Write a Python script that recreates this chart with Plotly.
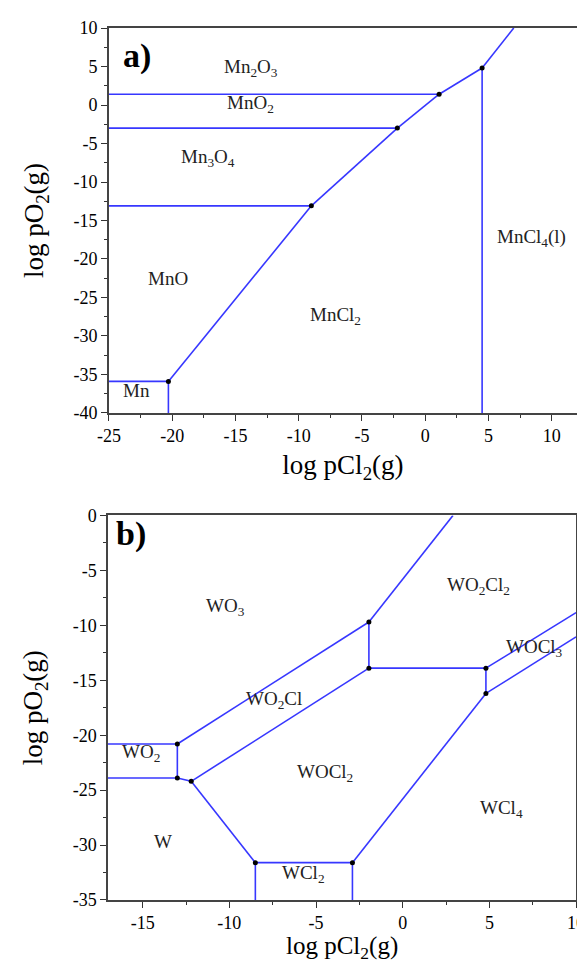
import plotly.graph_objects as go
from plotly.subplots import make_subplots

# ---------- Panel a) Mn-O-Cl ----------
A_MN_MNO_X, A_MN_MNO_Y = [-25, -20.3], [-35.9, -35.9]
A_MN_MNCL2_X, A_MN_MNCL2_Y = [-20.3, -20.3], [-40, -35.9]
A_MNO_MNCL2_X, A_MNO_MNCL2_Y = [-20.3, -9.0], [-35.9, -13.1]
A_MNO_MN3O4_X, A_MNO_MN3O4_Y = [-25, -9.0], [-13.1, -13.1]
A_MN3O4_MNCL2_X, A_MN3O4_MNCL2_Y = [-9.0, -2.2], [-13.1, -3.0]
A_MN3O4_MNO2_X, A_MN3O4_MNO2_Y = [-25, -2.2], [-3.0, -3.0]
A_MNO2_MNCL2_X, A_MNO2_MNCL2_Y = [-2.2, 1.1], [-3.0, 1.4]
A_MNO2_MN2O3_X, A_MNO2_MN2O3_Y = [-25, 1.1], [1.4, 1.4]
A_MN2O3_MNCL2_X, A_MN2O3_MNCL2_Y = [1.1, 4.5], [1.4, 4.8]
A_MN2O3_MNCL4_X, A_MN2O3_MNCL4_Y = [4.5, 7.0], [4.8, 10]
A_MNCL2_MNCL4_X, A_MNCL2_MNCL4_Y = [4.5, 4.5], [4.8, -40]

A_POINTS_X = [-20.3, -9.0, -2.2, 1.1, 4.5]
A_POINTS_Y = [-35.9, -13.1, -3.0, 1.4, 4.8]

A_LABELS = ["Mn<sub>2</sub>O<sub>3</sub>", "MnO<sub>2</sub>", "Mn<sub>3</sub>O<sub>4</sub>",
            "MnO", "MnCl<sub>2</sub>", "MnCl<sub>4</sub>(l)", "Mn"]
A_LABELS_X = [-13.8, -13.8, -17.2, -20.3, -7.1, 8.4, -22.8]
A_LABELS_Y = [4.0, -0.7, -7.7, -23.3, -28.2, -18.1, -37.9]

A_XTICKS = [-25, -20, -15, -10, -5, 0, 5, 10]
A_XTICKTEXT = ["-25", "-20", "-15", "-10", "-5", "0", "5", "10"]
A_YTICKS = [-40, -35, -30, -25, -20, -15, -10, -5, 0, 5, 10]
A_YTICKTEXT = ["-40", "-35", "-30", "-25", "-20", "-15", "-10", "-5", "0", "5", "10"]

# ---------- Panel b) W-O-Cl ----------
B_WO2_TOP_X, B_WO2_TOP_Y = [-17, -13.0], [-20.8, -20.8]
B_WO2_BOT_X, B_WO2_BOT_Y = [-17, -13.0], [-23.9, -23.9]
B_WO2_RIGHT_X, B_WO2_RIGHT_Y = [-13.0, -13.0], [-20.8, -23.9]
B_WO3_WO2CL_X, B_WO3_WO2CL_Y = [-13.0, -1.95], [-20.8, -9.7]
B_WO3_WO2CL2_X, B_WO3_WO2CL2_Y = [-1.95, 2.9], [-9.7, 0]
B_WO2CL_WO2CL2_X, B_WO2CL_WO2CL2_Y = [-1.95, -1.95], [-9.7, -13.9]
B_WO2CL_WOCL2_X, B_WO2CL_WOCL2_Y = [-12.2, -1.95], [-24.2, -13.9]
B_W_WO2CL_X, B_W_WO2CL_Y = [-13.0, -12.2], [-23.9, -24.2]
B_W_WOCL2_X, B_W_WOCL2_Y = [-12.2, -8.5], [-24.2, -31.6]
B_W_WCL2_X, B_W_WCL2_Y = [-8.5, -8.5], [-31.6, -35]
B_WCL2_WOCL2_X, B_WCL2_WOCL2_Y = [-8.5, -2.9], [-31.6, -31.6]
B_WCL2_WCL4_X, B_WCL2_WCL4_Y = [-2.9, -2.9], [-31.6, -35]
B_WOCL2_WCL4_X, B_WOCL2_WCL4_Y = [-2.9, 4.8], [-31.6, -16.2]
B_WO2CL2_WOCL2_X, B_WO2CL2_WOCL2_Y = [-1.95, 4.8], [-13.9, -13.9]
B_WOCL3_LEFT_X, B_WOCL3_LEFT_Y = [4.8, 4.8], [-13.9, -16.2]
B_WO2CL2_WOCL3_X, B_WO2CL2_WOCL3_Y = [4.8, 10], [-13.9, -8.85]
B_WOCL3_WCL4_X, B_WOCL3_WCL4_Y = [4.8, 10], [-16.2, -11.05]

B_POINTS_X = [-13.0, -13.0, -12.2, -8.5, -2.9, -1.95, -1.95, 4.8, 4.8]
B_POINTS_Y = [-20.8, -23.9, -24.2, -31.6, -31.6, -9.7, -13.9, -13.9, -16.2]

B_LABELS = ["WO<sub>3</sub>", "WO<sub>2</sub>Cl<sub>2</sub>", "WOCl<sub>3</sub>", "WO<sub>2</sub>Cl",
            "WO<sub>2</sub>", "WOCl<sub>2</sub>", "WCl<sub>4</sub>", "W", "WCl<sub>2</sub>"]
B_LABELS_X = [-10.2, 4.4, 7.6, -7.4, -15.1, -4.5, 5.7, -13.8, -5.7]
B_LABELS_Y = [-8.9, -7.0, -12.6, -17.3, -22.2, -24.0, -27.3, -30.2, -33.2]

B_XTICKS = [-15, -10, -5, 0, 5, 10]
B_XTICKTEXT = ["-15", "-10", "-5", "0", "5", "10"]
B_YTICKS = [-35, -30, -25, -20, -15, -10, -5, 0]
B_YTICKTEXT = ["-35", "-30", "-25", "-20", "-15", "-10", "-5", "0"]

X_TITLE = "log pCl<sub>2</sub>(g)"
Y_TITLE = "log pO<sub>2</sub>(g)"

BLUE = "rgb(55,55,255)"
FONT = "Times New Roman, Liberation Serif, serif"

fig = make_subplots(rows=2, cols=1)

a_lines = [
    (A_MN_MNO_X, A_MN_MNO_Y), (A_MN_MNCL2_X, A_MN_MNCL2_Y), (A_MNO_MNCL2_X, A_MNO_MNCL2_Y),
    (A_MNO_MN3O4_X, A_MNO_MN3O4_Y), (A_MN3O4_MNCL2_X, A_MN3O4_MNCL2_Y),
    (A_MN3O4_MNO2_X, A_MN3O4_MNO2_Y), (A_MNO2_MNCL2_X, A_MNO2_MNCL2_Y),
    (A_MNO2_MN2O3_X, A_MNO2_MN2O3_Y), (A_MN2O3_MNCL2_X, A_MN2O3_MNCL2_Y),
    (A_MN2O3_MNCL4_X, A_MN2O3_MNCL4_Y), (A_MNCL2_MNCL4_X, A_MNCL2_MNCL4_Y),
]
b_lines = [
    (B_WO2_TOP_X, B_WO2_TOP_Y), (B_WO2_BOT_X, B_WO2_BOT_Y), (B_WO2_RIGHT_X, B_WO2_RIGHT_Y),
    (B_WO3_WO2CL_X, B_WO3_WO2CL_Y), (B_WO3_WO2CL2_X, B_WO3_WO2CL2_Y),
    (B_WO2CL_WO2CL2_X, B_WO2CL_WO2CL2_Y), (B_WO2CL_WOCL2_X, B_WO2CL_WOCL2_Y),
    (B_W_WO2CL_X, B_W_WO2CL_Y), (B_W_WOCL2_X, B_W_WOCL2_Y), (B_W_WCL2_X, B_W_WCL2_Y),
    (B_WCL2_WOCL2_X, B_WCL2_WOCL2_Y), (B_WCL2_WCL4_X, B_WCL2_WCL4_Y),
    (B_WOCL2_WCL4_X, B_WOCL2_WCL4_Y), (B_WO2CL2_WOCL2_X, B_WO2CL2_WOCL2_Y),
    (B_WOCL3_LEFT_X, B_WOCL3_LEFT_Y), (B_WO2CL2_WOCL3_X, B_WO2CL2_WOCL3_Y),
    (B_WOCL3_WCL4_X, B_WOCL3_WCL4_Y),
]

for xs, ys in a_lines:
    fig.add_trace(go.Scatter(x=xs, y=ys, mode="lines", line=dict(color=BLUE, width=1.6),
                             showlegend=False, hoverinfo="skip"), row=1, col=1)
for xs, ys in b_lines:
    fig.add_trace(go.Scatter(x=xs, y=ys, mode="lines", line=dict(color=BLUE, width=1.6),
                             showlegend=False, hoverinfo="skip"), row=2, col=1)

fig.add_trace(go.Scatter(x=A_POINTS_X, y=A_POINTS_Y, mode="markers",
                         marker=dict(color="black", size=5), showlegend=False), row=1, col=1)
fig.add_trace(go.Scatter(x=B_POINTS_X, y=B_POINTS_Y, mode="markers",
                         marker=dict(color="black", size=5), showlegend=False), row=2, col=1)

for t, x, y in zip(A_LABELS, A_LABELS_X, A_LABELS_Y):
    fig.add_annotation(x=x, y=y, xref="x", yref="y", text=t, showarrow=False, yshift=6,
                       font=dict(family=FONT, size=19, color="#222"))
for t, x, y in zip(B_LABELS, B_LABELS_X, B_LABELS_Y):
    fig.add_annotation(x=x, y=y, xref="x2", yref="y2", text=t, showarrow=False, yshift=6,
                       font=dict(family=FONT, size=19, color="#222"))

fig.add_annotation(x=-22.8, y=6.4, xref="x", yref="y", text="<b>a)</b>", showarrow=False,
                   font=dict(family=FONT, size=34, color="black"))
fig.add_annotation(x=-15.7, y=-1.7, xref="x2", yref="y2", text="<b>b)</b>", showarrow=False,
                   font=dict(family=FONT, size=34, color="black"))

title_font = dict(family=FONT, size=27, color="black")

# bottom x-axis title as a paper annotation so it stays inside the page
fig.add_annotation(x=0.5, y=-0.0734, xref="x2 domain", yref="paper", text=X_TITLE,
                   showarrow=False, xanchor="center", yanchor="bottom", borderpad=0,
                   font=dict(family=FONT, size=25, color="black"))

axis_common = dict(
    showline=True, linecolor="#444", linewidth=1.5, mirror=True,
    ticks="outside", ticklen=6, tickwidth=1.2, tickcolor="#333",
    showgrid=False, zeroline=False,
    tickfont=dict(family=FONT, size=18, color="black"),
    minor=dict(ticks="outside", ticklen=3.5, tickwidth=1.2, tickcolor="#333", showgrid=False),
)

fig.update_xaxes(**axis_common, row=1, col=1, range=[-25, 12],
                 tickmode="array", tickvals=A_XTICKS, ticktext=A_XTICKTEXT,
                 minor_dtick=2.5, minor_tick0=0,
                 title=dict(text=X_TITLE, font=title_font, standoff=10),
                 domain=[0.002, 1.0])
fig.update_yaxes(**axis_common, row=1, col=1, range=[-40, 10],
                 tickmode="array", tickvals=A_YTICKS, ticktext=A_YTICKTEXT,
                 minor_dtick=2.5, minor_tick0=0,
                 title=dict(text=Y_TITLE, font=title_font, standoff=22),
                 domain=[0.5585, 1.0])
fig.update_xaxes(**axis_common, row=2, col=1, range=[-17, 10],
                 tickmode="array", tickvals=B_XTICKS, ticktext=B_XTICKTEXT,
                 minor_dtick=2.5, minor_tick0=0,
                 domain=[0.0, 0.998])
fig.update_yaxes(**axis_common, row=2, col=1, range=[-35, 0],
                 tickmode="array", tickvals=B_YTICKS, ticktext=B_YTICKTEXT,
                 minor_dtick=2.5, minor_tick0=0,
                 title=dict(text=Y_TITLE, font=title_font, standoff=22),
                 domain=[0.0, 0.441])

fig.update_layout(
    width=585, height=964,
    margin=dict(l=100, r=7, t=20, b=72),
    paper_bgcolor="white", plot_bgcolor="white",
    font=dict(family=FONT, color="black"),
    showlegend=False,
)

fig.write_html("out.html")
